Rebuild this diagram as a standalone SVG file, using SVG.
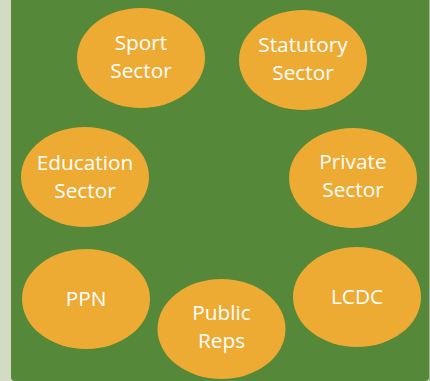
<svg xmlns="http://www.w3.org/2000/svg" width="430" height="381" viewBox="0 0 430 381">
  <style>
    .node ellipse { fill: #eeab33; }
    .node text { fill: #ffffff; font-family: "Open Sans", "Noto Sans", sans-serif; font-size: 20.8px; text-anchor: middle; }
  </style>
  <!-- page margin and panel -->
  <rect x="0" y="0" width="430" height="381" fill="#d3dbc5"/>
  <path d="M11,0 H429 V377 Q429,381 425,381 H15 Q11,381 11,377 Z" fill="#568839"/>
  <line x1="429.5" y1="0" x2="429.5" y2="381" stroke="#a9ada5" stroke-width="1"/>

  <g id="connectors"></g>

  <g id="sport" class="node">
    <ellipse cx="141" cy="58" rx="64" ry="50"/>
    <text x="141" y="50">Sport</text>
    <text x="141" y="78">Sector</text>
  </g>
  <g id="statutory" class="node">
    <ellipse cx="303" cy="60" rx="64" ry="50"/>
    <text x="303" y="52">Statutory</text>
    <text x="303" y="80">Sector</text>
  </g>
  <g id="education" class="node">
    <ellipse cx="85" cy="177" rx="64" ry="50"/>
    <text x="85" y="170">Education</text>
    <text x="85" y="198">Sector</text>
  </g>
  <g id="private" class="node">
    <ellipse cx="353" cy="178" rx="64" ry="50"/>
    <text x="353" y="169">Private</text>
    <text x="353" y="197">Sector</text>
  </g>
  <g id="ppn" class="node">
    <ellipse cx="86" cy="299" rx="64" ry="50"/>
    <text x="86" y="306">PPN</text>
  </g>
  <g id="public-reps" class="node">
    <ellipse cx="221.5" cy="329" rx="64" ry="50"/>
    <text x="221.5" y="320">Public</text>
    <text x="221.5" y="348">Reps</text>
  </g>
  <g id="lcdc" class="node">
    <ellipse cx="357" cy="297" rx="64" ry="50"/>
    <text x="357" y="304">LCDC</text>
  </g>
</svg>
